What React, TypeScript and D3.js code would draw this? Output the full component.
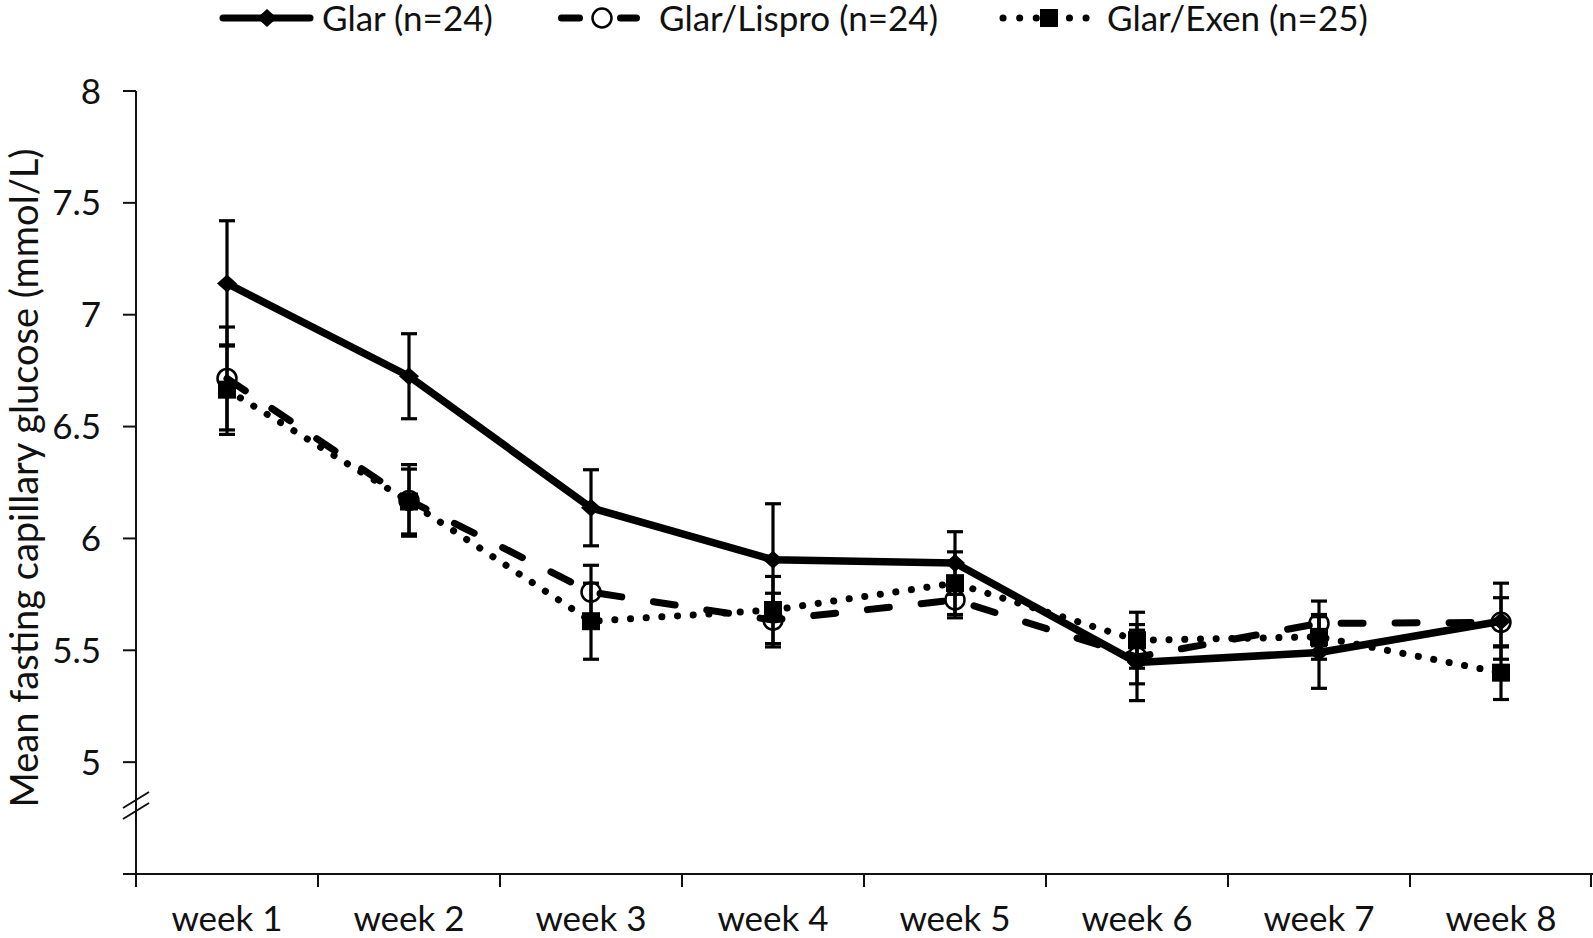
import React, { useEffect, useRef } from 'react';
import * as d3 from 'd3';

// week labels and series (mean +/- error)
const weeks = ['week 1', 'week 2', 'week 3', 'week 4', 'week 5', 'week 6', 'week 7', 'week 8'];
const glarMean = [7.14, 6.725, 6.137, 5.905, 5.89, 5.445, 5.49, 5.63];
const glarErr = [0.28, 0.19, 0.17, 0.25, 0.14, 0.17, 0.16, 0.17];
const lisproMean = [6.715, 6.17, 5.76, 5.635, 5.725, 5.47, 5.62, 5.625];
const lisproErr = [0.23, 0.16, 0.12, 0.12, 0.08, 0.12, 0.1, 0.11];
const exenMean = [6.665, 6.165, 5.63, 5.68, 5.8, 5.545, 5.56, 5.4];
const exenErr = [0.2, 0.145, 0.17, 0.15, 0.14, 0.125, 0.1, 0.12];
const yTicks = [5, 5.5, 6, 6.5, 7, 7.5, 8];
const seriesNames = ['Glar (n=24)', 'Glar/Lispro (n=24)', 'Glar/Exen (n=25)'];

const FONT = "Lato, 'Open Sans', sans-serif";

export default function App() {
  const ref = useRef<SVGSVGElement | null>(null);

  useEffect(() => {
    const left = 136;
    const right = 1592;
    const top = 91;
    const bottom = 874;

    const svg = d3.select(ref.current);
    svg.selectAll('*').remove();

    const x = d3.scaleBand().domain(weeks).range([left, right]);
    const y = d3.scaleLinear().domain([4.5, 8]).range([bottom, top]);
    const cx = (i: number) => (x(weeks[i]) as number) + x.bandwidth() / 2;

    // axes
    const ax = svg.append('g').attr('stroke', '#111').attr('stroke-width', 2);
    ax.append('line').attr('x1', left).attr('x2', left).attr('y1', y(8)).attr('y2', bottom + 13);
    ax.append('line').attr('x1', left - 13).attr('x2', right + 1).attr('y1', bottom).attr('y2', bottom);
    yTicks.forEach((t) => {
      ax.append('line').attr('x1', left - 13).attr('x2', left).attr('y1', y(t)).attr('y2', y(t));
    });
    weeks.forEach((w) => {
      const bx = x(w) as number;
      ax.append('line').attr('x1', bx).attr('x2', bx).attr('y1', bottom).attr('y2', bottom + 13);
    });
    ax.append('line').attr('x1', right - 1).attr('x2', right - 1).attr('y1', bottom).attr('y2', bottom + 13);

    // axis break marks
    [800, 811].forEach((by) => {
      ax.append('line')
        .attr('x1', left - 13).attr('y1', by + 8)
        .attr('x2', left + 13).attr('y2', by - 8)
        .attr('stroke-width', 2);
    });

    svg.selectAll('.ytick')
      .data(yTicks)
      .enter().append('text')
      .attr('class', 'ytick')
      .attr('x', 101)
      .attr('y', (d) => y(d))
      .attr('dy', '0.36em')
      .attr('text-anchor', 'end')
      .style('font-family', FONT)
      .style('font-size', '35px')
      .attr('fill', '#111')
      .text((d) => String(d));

    svg.selectAll('.xlab')
      .data(weeks)
      .enter().append('text')
      .attr('class', 'xlab')
      .attr('x', (d) => (x(d) as number) + x.bandwidth() / 2)
      .attr('y', 931)
      .attr('text-anchor', 'middle')
      .style('font-family', FONT)
      .style('font-size', '35px')
      .attr('fill', '#111')
      .text((d) => d);

    svg.append('text')
      .attr('transform', 'translate(38,' + 478 + ') rotate(-90)')
      .attr('text-anchor', 'middle')
      .style('font-family', FONT)
      .style('font-size', '38px')
      .attr('fill', '#111')
      .text('Mean fasting capillary glucose (mmol/L)');

    const series = [
      { mean: glarMean, err: glarErr, dash: null, width: 7.5, marker: 'diamond' },
      { mean: lisproMean, err: lisproErr, dash: '22 32', width: 7, marker: 'circle' },
      { mean: exenMean, err: exenErr, dash: '0.1 15.6', width: 7, marker: 'square' },
    ];

    const drawMarker = (g: any, kind: string, px: number, py: number) => {
      if (kind === 'diamond') {
        g.append('path')
          .attr('d', `M${px},${py - 9}L${px + 10},${py}L${px},${py + 9}L${px - 10},${py}Z`)
          .attr('fill', '#000');
      } else if (kind === 'circle') {
        g.append('circle')
          .attr('cx', px).attr('cy', py).attr('r', 9.5)
          .attr('fill', 'none').attr('stroke', '#000').attr('stroke-width', 2.5);
      } else {
        g.append('rect')
          .attr('x', px - 9).attr('y', py - 9).attr('width', 18).attr('height', 18)
          .attr('fill', '#000');
      }
    };

    const line = d3.line<number>()
      .x((d, i) => cx(i))
      .y((d) => y(d));

    series.forEach((s) => {
      const g = svg.append('g');
      // error bars
      s.mean.forEach((m, i) => {
        const px = cx(i);
        const eb = g.append('g').attr('stroke', '#000').attr('stroke-width', 3.2);
        eb.append('line').attr('x1', px).attr('x2', px).attr('y1', y(m + s.err[i])).attr('y2', y(m - s.err[i]));
        eb.append('line').attr('x1', px - 8).attr('x2', px + 8).attr('y1', y(m + s.err[i])).attr('y2', y(m + s.err[i]));
        eb.append('line').attr('x1', px - 8).attr('x2', px + 8).attr('y1', y(m - s.err[i])).attr('y2', y(m - s.err[i]));
      });
      g.append('path')
        .attr('d', line(s.mean))
        .attr('fill', 'none')
        .attr('stroke', '#000')
        .attr('stroke-width', s.width)
        .attr('stroke-linecap', 'round')
        .attr('stroke-linejoin', 'round')
        .attr('stroke-dasharray', s.dash);
      s.mean.forEach((m, i) => drawMarker(g, s.marker, cx(i), y(m)));
    });

    // legend
    const legendX = [[223, 310], [561.5, 636.5], [1003, 1088]];
    const legendDash = [null, '18 41', '0.1 16.5'];
    const legendText = [322, 659, 1107];
    const leg = svg.append('g');
    series.forEach((s, i) => {
      const [l0, l1] = legendX[i];
      const ly = 18;
      leg.append('line')
        .attr('x1', l0).attr('x2', l1).attr('y1', ly).attr('y2', ly)
        .attr('stroke', '#000').attr('stroke-width', 7)
        .attr('stroke-linecap', 'round')
        .attr('stroke-dasharray', legendDash[i]);
      drawMarker(leg, s.marker, i === 0 ? 267 : i === 1 ? 602 : 1049, ly);
      leg.append('text')
        .attr('x', legendText[i])
        .attr('y', 31)
        .style('font-family', FONT)
        .style('font-size', '35px')
        .attr('fill', '#111')
        .text(seriesNames[i]);
    });
  }, []);

  return (
    <div id="chart" style={{ position: 'absolute', left: 0, top: 0 }}>
      <svg ref={ref} width={1593} height={938} style={{ display: 'block', background: '#fff' }} />
    </div>
  );
}
